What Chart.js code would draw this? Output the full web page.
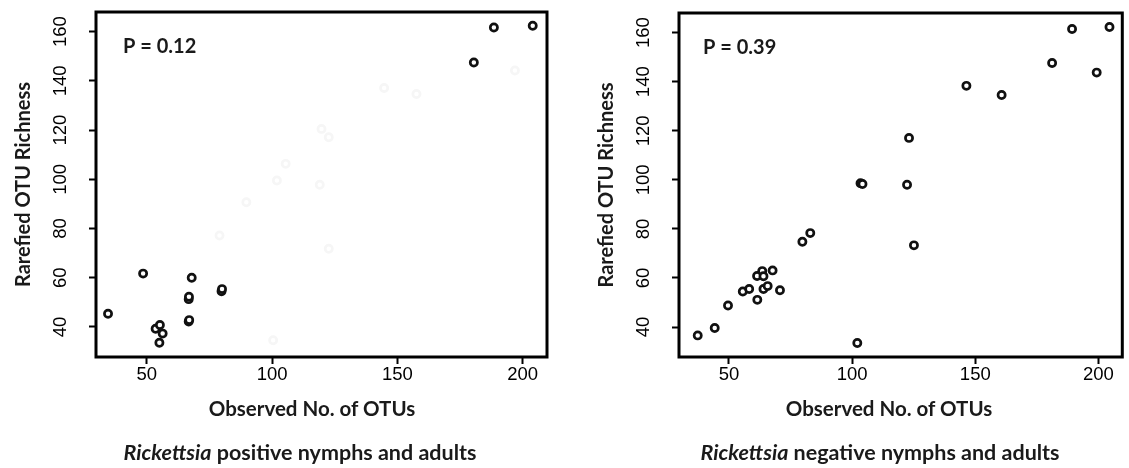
<!DOCTYPE html>
<html><head><meta charset="utf-8">
<script src="https://cdn.jsdelivr.net/npm/chart.js@4/dist/chart.umd.min.js"></script>
<style>
html,body{margin:0;padding:0;background:#fff}
body{width:1129px;height:468px;overflow:hidden;position:relative;font-family:Lato,"Open Sans",sans-serif}
.wrap{position:absolute;top:0;height:468px}
.txt{position:absolute;font-weight:bold;font-size:20.5px;color:#1a1a1a;white-space:nowrap;transform:translate(-50%,-50%);line-height:1}
.cap{font-size:21.5px}
</style></head><body>
<div class="wrap" style="left:0;width:564px"><canvas id="c1"></canvas></div>
<div class="wrap" style="left:583px;width:546px"><canvas id="c2"></canvas></div>
<div class="txt" style="left:312px;top:408px">Observed No. of OTUs</div>
<div class="txt" style="left:889px;top:408px">Observed No. of OTUs</div>
<div class="txt cap" style="left:300px;top:453px"><i>Rickettsia</i> positive nymphs and adults</div>
<div class="txt cap" style="left:880px;top:453px"><i>Rickettsia</i> negative nymphs and adults</div>
<script>
// ---- data ----
const xTicks = [50, 100, 150, 200];
const yTicks = [40, 60, 80, 100, 120, 140, 160];
const xRange = [29.7, 209.7];
const yRange = [27.8, 168];
const yTitle = 'Rarefied OTU Richness';

const posObserved = [34.5, 48.5, 53.5, 55.2, 56.3, 55.0, 66.7, 66.8, 66.7, 66.9, 67.9, 79.8, 80.0, 180.5, 188.5, 204.0];
const posRarefied = [45.4, 61.7, 39.3, 40.8, 37.3, 33.6, 51.3, 52.3, 42.2, 42.8, 60.0, 54.5, 55.4, 147.5, 161.7, 162.4];
const posP = 'P = 0.12';

// very faint marks visible in the left panel
const ghostObserved = [196.9, 157.6, 144.7, 119.7, 122.6, 101.9, 119.0, 89.7, 79.0, 122.6, 105.4, 100.4];
const ghostRarefied = [144.2, 134.7, 137.1, 120.5, 117.1, 99.5, 97.8, 90.7, 77.2, 71.8, 106.3, 34.6];

const negObserved = [37.3, 44.2, 49.6, 55.6, 58.2, 61.5, 61.4, 63.5, 64.0, 64.0, 65.7, 67.7, 70.7, 79.8, 83.0, 102.1, 103.4, 104.2, 122.3, 123.1, 125.1, 146.4, 160.7, 181.2, 189.3, 199.3, 204.5];
const negRarefied = [36.6, 39.6, 48.8, 54.5, 55.5, 51.1, 60.8, 62.8, 60.7, 55.5, 56.7, 63.1, 55.0, 74.8, 78.3, 33.5, 98.6, 98.3, 98.0, 117.1, 73.3, 138.3, 134.6, 147.6, 161.5, 143.7, 162.3];
const negP = 'P = 0.39';

// ---- build ----
const pts = (xs, ys) => xs.map((x, i) => ({x, y: ys[i]}));

const boxPlugin = {
  id: 'box',
  afterDatasetsDraw(chart, args, opts) {
    const {ctx, chartArea: a} = chart;
    ctx.save();
    ctx.strokeStyle = '#000';
    ctx.lineWidth = 3;
    ctx.strokeRect(a.left, a.top, a.right - a.left, a.bottom - a.top);
    ctx.fillStyle = '#1a1a1a';
    ctx.font = 'bold 20px Lato';
    ctx.textBaseline = 'middle';
    ctx.textAlign = 'left';
    ctx.fillText(opts.text, a.left + opts.dx, a.top + 35);
    ctx.restore();
  }
};

function makeChart(id, datasets, pText, dx, padTop, padRight) {
  const tickFont = {family: 'Liberation Sans', size: 18.5};
  return new Chart(document.getElementById(id), {
    type: 'scatter',
    data: {datasets},
    options: {
      responsive: true,
      maintainAspectRatio: false,
      animation: false,
      events: [],
      layout: {padding: {top: padTop, right: padRight, left: 0, bottom: 0}},
      plugins: {legend: {display: false}, tooltip: {enabled: false}, box: {text: pText, dx}},
      elements: {point: {pointStyle: 'circle', radius: 3.6, borderWidth: 2.7, backgroundColor: '#fff'}},
      scales: {
        x: {
          type: 'linear', min: xRange[0], max: xRange[1],
          afterBuildTicks: s => { s.ticks = xTicks.map(v => ({value: v})); },
          afterFit: s => { s.height = 111; s.paddingLeft = 0; s.paddingRight = 0; },
          ticks: {font: tickFont, color: '#000', padding: 0, maxRotation: 0, autoSkip: false},
          grid: {drawOnChartArea: false, drawTicks: true, tickLength: 7, tickWidth: 2, tickColor: '#000'},
          border: {display: false}
        },
        y: {
          type: 'linear', min: yRange[0], max: yRange[1],
          afterBuildTicks: s => { s.ticks = yTicks.map(v => ({value: v})); },
          afterFit: s => { s.width = 96; s.paddingTop = 0; s.paddingBottom = 0; },
          ticks: {font: tickFont, color: '#000', padding: 13, minRotation: 90, maxRotation: 90, crossAlign: 'center', autoSkip: false},
          grid: {drawOnChartArea: false, drawTicks: true, tickLength: 7, tickWidth: 2, tickColor: '#000'},
          border: {display: false},
          title: {display: true, text: yTitle, color: '#1a1a1a', font: {family: 'Lato', weight: 'bold', size: 20}, padding: {top: 12, bottom: 0}}
        }
      }
    },
    plugins: [boxPlugin]
  });
}

makeChart('c1', [
  {data: pts(ghostObserved, ghostRarefied), borderColor: '#f6f6f6', backgroundColor: '#fff'},
  {data: pts(posObserved, posRarefied), borderColor: '#111', backgroundColor: '#fff'}
], posP, 27, 12, 17);

makeChart('c2', [
  {data: pts(negObserved, negRarefied), borderColor: '#111', backgroundColor: '#fff'}
], negP, 24, 13, 1);
</script>
</body></html>
